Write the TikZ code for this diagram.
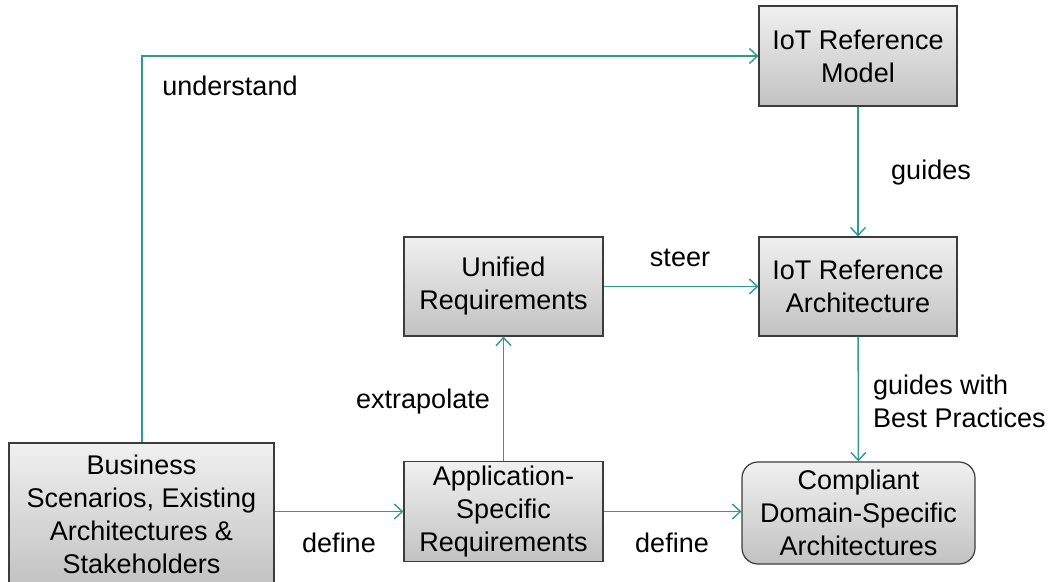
\documentclass[tikz,border=0pt]{standalone}
\usepackage{fontspec}
\setmainfont{Liberation Sans}
\usetikzlibrary{arrows.meta}
\definecolor{flow}{HTML}{2E9C88}
\definecolor{boxtop}{HTML}{F0F0F0}
\definecolor{boxbot}{HTML}{C2C2C2}
\definecolor{boxline}{HTML}{3C3C3C}
\tikzset{
  block/.style={draw=boxline, line width=1.2pt, top color=boxtop, bottom color=boxbot,
    align=center, inner sep=0pt, font=\fontsize{27}{33}\selectfont},
  flowarrow/.style={draw=flow, line width=1.4pt, -{Straight Barb[length=8pt,width=15pt,line width=1.4pt]}},
  lbl/.style={font=\fontsize{27}{33}\selectfont, inner sep=0pt}
}
\begin{document}
\begin{tikzpicture}[x=1pt,y=-1pt]
\useasboundingbox (0,0) rectangle (1051,581);
% boxes
\node[block, minimum width=198pt, minimum height=100pt] (model) at (858,56) {IoT Reference\\Model};
\node[block, minimum width=198pt, minimum height=99pt] (arch) at (858,286.5) {IoT Reference\\Architecture};
\node[block, minimum width=199pt, minimum height=99pt] (unified) at (503.5,286.5) {Unified\\Requirements};
\node[block, minimum width=199pt, minimum height=100pt] (app) at (503.5,511.5) {Application-\\Specific\\Requirements};
\node[block, minimum width=265pt, minimum height=142pt] (business) at (141.5,514) {Business\\Scenarios, Existing\\Architectures \&\\Stakeholders};
\node[block, rounded corners=16pt, minimum width=233pt, minimum height=102pt] (compliant) at (858.5,513) {Compliant\\Domain-Specific\\Architectures};
% connectors
\coordinate (bend) at (142,56);
\draw[flowarrow] (business.north -| bend) -- (bend) -- (model.west);
\draw[flowarrow] (model) -- (arch);
\draw[flowarrow] (unified) -- (arch);
\draw[flowarrow] (arch) -- (compliant);
\draw[flowarrow] (app) -- (unified);
\draw[flowarrow] (business.east |- app.west) -- (app.west);
\draw[flowarrow] (app.east) -- (compliant.west |- app.east);
% labels
\node[lbl] (lunderstand) at (230,86) {understand};
\node[lbl] (lguides) at (931,173) {guides};
\node[lbl] (lsteer) at (680,258) {steer};
\node[lbl] (lextra) at (423,402) {extrapolate};
\node[lbl, align=left, anchor=west] (lbest) at (873,401) {guides with\\Best Practices};
\node[lbl] (ldefineA) at (339,543) {define};
\node[lbl] (ldefineB) at (672,543) {define};
\end{tikzpicture}
\end{document}
